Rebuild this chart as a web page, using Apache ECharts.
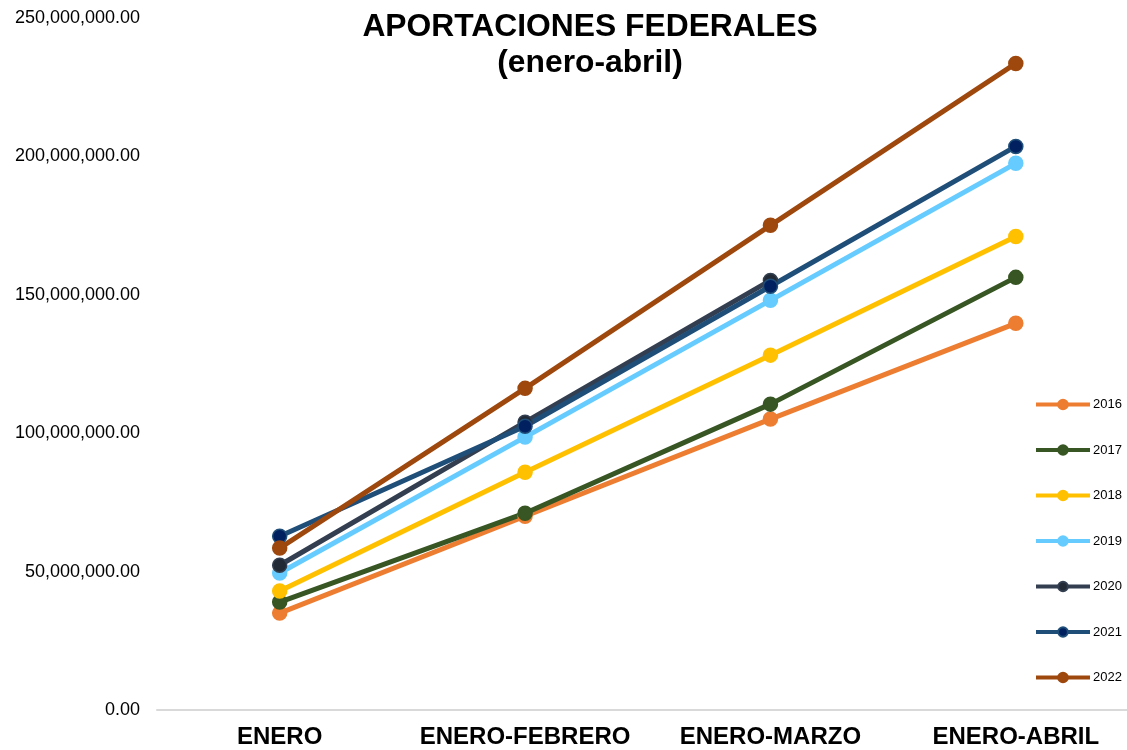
<!DOCTYPE html>
<html>
<head>
<meta charset="utf-8">
<title>Aportaciones federales</title>
<script src="https://cdn.jsdelivr.net/npm/echarts@6/dist/echarts.min.js"></script>
<style>
	html, body {
		margin: 0;
		padding: 0;
		background: #fff;
	}
	#main {
		width: 1127px;
		height: 750px;
	}
</style>
</head>
<body>
<div id="main"></div>
<script>
	// periodos acumulados
	const periodos = ['ENERO', 'ENERO-FEBRERO', 'ENERO-MARZO', 'ENERO-ABRIL'];
	const anios = ['2016', '2017', '2018', '2019', '2020', '2021', '2022'];

	// valores (pesos)
	const v2016 = [35000000, 70000000, 105100000, 139700000];
	const v2017 = [39000000, 71100000, 110500000, 156300000];
	const v2018 = [43000000, 85900000, 128200000, 171100000];
	const v2019 = [49500000, 98600000, 148000000, 197500000];
	const v2020 = [52300000, 104000000, 155200000, null];
	const v2021 = [62800000, 102500000, 153100000, 203600000];
	const v2022 = [58500000, 116200000, 175100000, 233600000];

	const yTicks = [0, 50000000, 100000000, 150000000, 200000000, 250000000];

	const lineColors = ['#ED7D31', '#375623', '#FFC000', '#66CCFF', '#333F50', '#1F4E79', '#9E480E'];
	const dotColors = ['#ED7D31', '#375623', '#FFC000', '#66CCFF', '#222A35', '#002060', '#9E480E'];
	const valores = [v2016, v2017, v2018, v2019, v2020, v2021, v2022];

	const fuente = '"Liberation Sans", Arial, sans-serif';

	function formatoNumero(v) {
		let partes = v.toFixed(2).split('.');
		partes[0] = partes[0].replace(/\B(?=(\d{3})+(?!\d))/g, ',');
		return partes.join('.');
	}

	let myChart = echarts.init(document.getElementById('main'));

	let series = anios.map((anio, i) => ({
		name: anio,
		type: 'line',
		data: valores[i],
		symbol: 'circle',
		symbolSize: 14,
		lineStyle: {
			color: lineColors[i],
			width: 5
		},
		itemStyle: {
			color: dotColors[i],
			borderColor: lineColors[i],
			borderWidth: 1.5
		},
		emphasis: { disabled: true }
	}));

	let option = {
		backgroundColor: '#fff',
		animation: false,
		textStyle: { fontFamily: fuente },
		title: {
			text: 'APORTACIONES FEDERALES\n(enero-abril)',
			left: 585,
			top: 4,
			textAlign: 'center',
			textStyle: {
				fontFamily: fuente,
				fontSize: 31.8,
				fontWeight: 'bold',
				lineHeight: 36,
				color: '#000'
			}
		},
		legend: {
			orient: 'vertical',
			left: 1029,
			top: 393,
			itemWidth: 54,
			itemHeight: 12,
			itemGap: 32.5,
			data: anios,
			lineStyle: { width: 4 },
			textStyle: {
				fontFamily: fuente,
				fontSize: 13,
				color: '#000',
				padding: [0, 0, 0, -2]
			}
		},
		grid: {
			left: 157,
			top: 18,
			right: -11.5,
			bottom: 40,
			outerBoundsMode: 'none',
			containLabel: false
		},
		xAxis: {
			type: 'category',
			data: periodos,
			boundaryGap: true,
			axisLine: {
				lineStyle: { color: '#D9D9D9', width: 2 }
			},
			axisTick: { show: false },
			axisLabel: {
				interval: 0,
				margin: 15,
				fontFamily: fuente,
				fontSize: 24,
				fontWeight: 'bold',
				color: '#000'
			}
		},
		yAxis: {
			type: 'value',
			min: yTicks[0],
			max: yTicks[yTicks.length - 1],
			interval: yTicks[1] - yTicks[0],
			axisLine: { show: false },
			axisTick: { show: false },
			splitLine: { show: false },
			axisLabel: {
				margin: 17,
				fontFamily: fuente,
				fontSize: 18,
				color: '#000',
				formatter: formatoNumero
			}
		},
		series: series
	};

	myChart.setOption(option);
</script>
</body>
</html>
